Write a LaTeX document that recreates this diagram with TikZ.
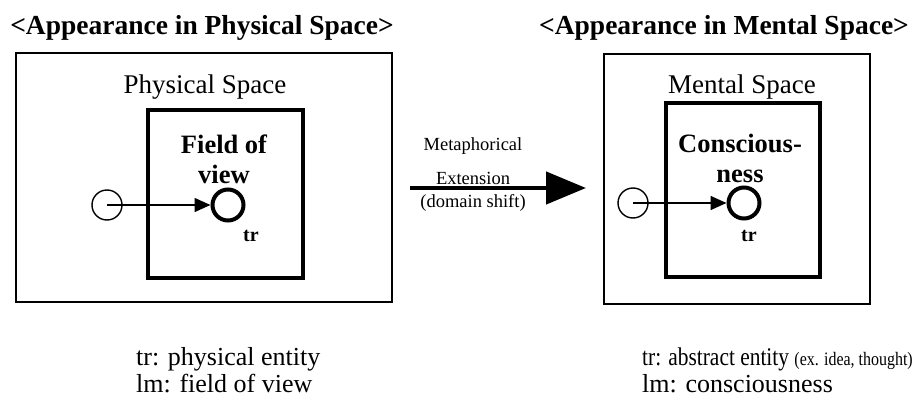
\documentclass[tikz,border=0pt]{standalone}
\usepackage{fontspec}
\setmainfont{Liberation Serif}
\usetikzlibrary{arrows.meta}
\tikzset{
  head/.style={font=\fontsize{27.5}{30}\selectfont\bfseries, anchor=base, inner sep=0},
  body/.style={font=\fontsize{27}{30}\selectfont, anchor=base, inner sep=0},
  bodyb/.style={font=\fontsize{26.5}{28}\selectfont\bfseries, anchor=base, inner sep=0},
  small/.style={font=\fontsize{18.5}{20}\selectfont, anchor=base, inner sep=0},
  trlab/.style={font=\fontsize{20}{22}\selectfont\bfseries, anchor=base, inner sep=0},
  legend/.style={font=\fontsize{26}{28}\selectfont, anchor=base west, inner sep=0},
  outerbox/.style={draw, line width=1.8pt},
  innerbox/.style={draw, line width=4.2pt},
  lmcirc/.style={circle, draw, line width=1.4pt, minimum size=30pt, inner sep=0},
  trcirc/.style={circle, draw, line width=4pt, minimum size=31pt, inner sep=0},
  conn/.style={line width=1.5pt, -{Triangle[length=16pt,width=14pt]}},
}
\begin{document}
\begin{tikzpicture}[x=1pt,y=-1pt]
\useasboundingbox (0,0) rectangle (923,396);
% headings
\node[head] (h1) at (202,35) {<Appearance in Physical Space>};
\node[head] (h2) at (724,35) {<Appearance in Mental Space>};
% left diagram
\draw[outerbox] (16,53) rectangle (392,302);
\draw[innerbox] (148,110) rectangle (303,278);
\node[body] (ps) at (205,93) {Physical Space};
\node[bodyb] (fv1) at (224,153) {Field of};
\node[bodyb] (fv2) at (224,183) {view};
\node[lmcirc] (lm1) at (107,205) {};
\node[trcirc] (tr1) at (228,205) {};
\node[trlab] (t1) at (251,241) {tr};
\draw[conn] (lm1.center) -- (tr1.west);
% metaphor arrow
\coordinate (ma) at (410,188);
\coordinate (mb) at (586,188);
\draw[line width=4.5pt, -{Triangle[length=40pt,width=32pt]}] (ma) -- (mb);
\node[small] (m1) at (473,150) {Metaphorical};
\node[small] (m2) at (473,184) {Extension};
\node[small] (m3) at (473,207) {(domain shift)};
% right diagram
\draw[outerbox] (604,54) rectangle (870,304);
\draw[innerbox] (666,103) rectangle (820,277);
\node[body] (ms) at (742,93) {Mental Space};
\node[bodyb] (cs1) at (740,152) {Conscious-};
\node[bodyb] (cs2) at (740,182) {ness};
\node[lmcirc] (lm2) at (633,203) {};
\node[trcirc] (tr2) at (744,203) {};
\node[trlab] (t2) at (749,241) {tr};
\draw[conn] (lm2.center) -- (tr2.west);
% legends
\node[legend] (l1) at (136,365) {tr: physical entity};
\node[legend] (l2) at (136,392) {lm: field of view};
\node[legend, xscale=0.84, font=\fontsize{25.5}{28}\selectfont] (l3) at (642,365) {tr: abstract entity {\fontsize{19}{20}\selectfont(ex. idea, thought)}};
\node[legend] (l4) at (642,392) {lm: consciousness};
\end{tikzpicture}
\end{document}
